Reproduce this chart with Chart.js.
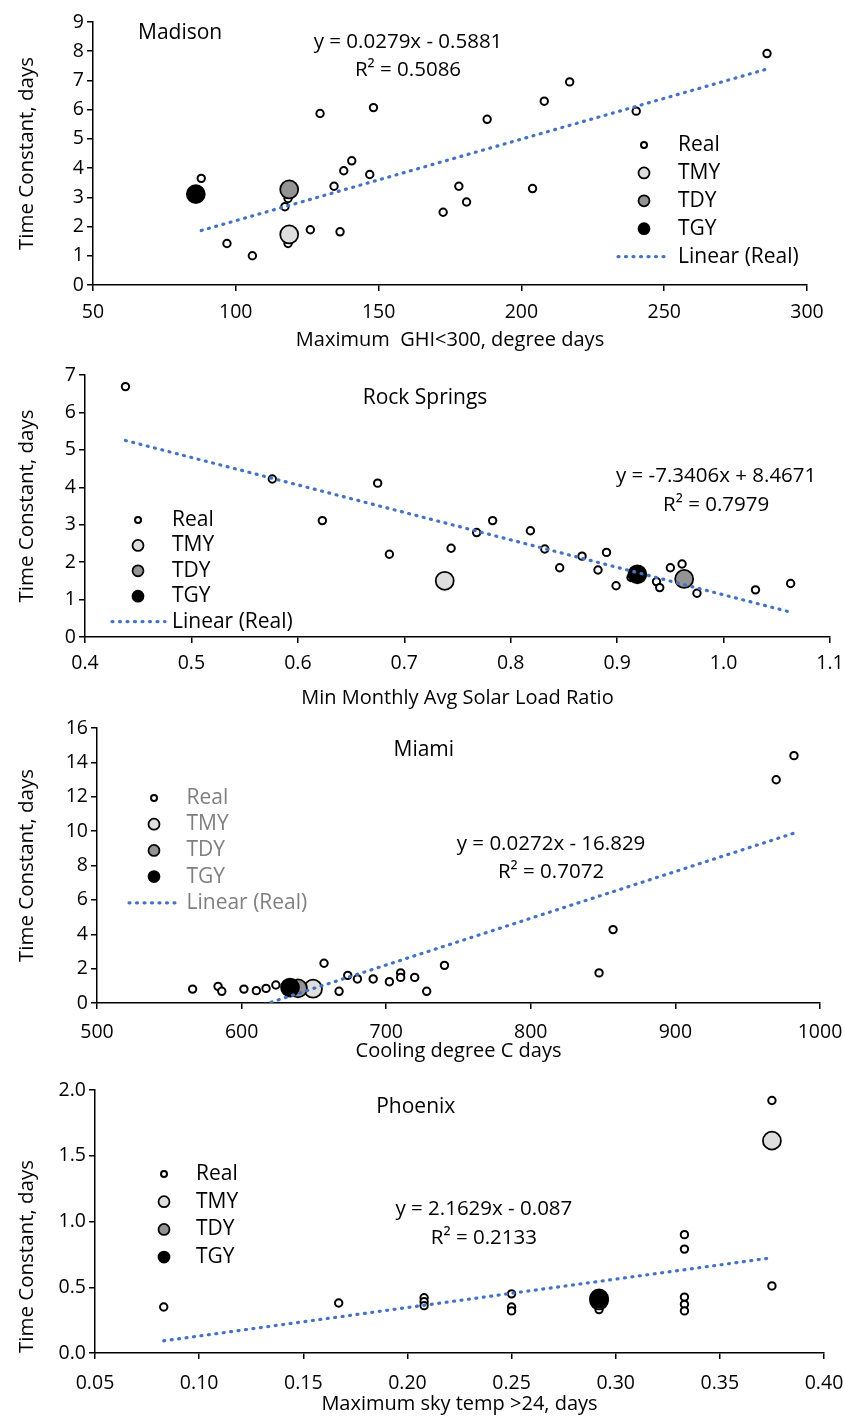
<!DOCTYPE html>
<html>
<head>
<meta charset="utf-8">
<title>Time constant vs weather metrics</title>
<script src="https://cdn.jsdelivr.net/npm/chart.js@4.4.0/dist/chart.umd.min.js"></script>
<style>
  body { margin: 0; background: #fff; }
  canvas { position: absolute; left: 0; }
</style>
</head>
<body>
<canvas id="madison" width="845" height="355" style="top:0"></canvas>
<canvas id="rock" width="845" height="355" style="top:355px"></canvas>
<canvas id="miami" width="845" height="355" style="top:710px"></canvas>
<canvas id="phoenix" width="845" height="351" style="top:1065px"></canvas>
<script>
// Madison
const madisonRealX = [87.9, 96.9, 105.8, 117.2, 118.3, 118.3, 126.1, 129.5, 134.4, 136.5, 137.8, 140.6, 146.9, 148.2, 172.6, 178.1, 180.8, 188.0, 203.9, 208.0, 216.9, 240.2, 286.0];
const madisonRealY = [3.65, 1.42, 1.00, 2.68, 2.96, 1.42, 1.89, 5.87, 3.38, 1.82, 3.91, 4.25, 3.78, 6.07, 2.49, 3.38, 2.84, 5.67, 3.30, 6.29, 6.95, 5.95, 7.92];
const madisonTmyX = [118.7], madisonTmyY = [1.73];
const madisonTdyX = [118.7], madisonTdyY = [3.27];
const madisonTgyX = [86.0], madisonTgyY = [3.11];
const madisonFit = [0.0279, -0.5881];
const madisonR2 = 0.5086;
const madisonXTicks = [50, 100, 150, 200, 250, 300];
const madisonYTicks = [0, 1, 2, 3, 4, 5, 6, 7, 8, 9];

// Rock Springs
const rockRealX = [0.438, 0.576, 0.623, 0.675, 0.686, 0.744, 0.768, 0.783, 0.8185, 0.832, 0.846, 0.867, 0.882, 0.890, 0.899, 0.913, 0.937, 0.940, 0.950, 0.961, 0.975, 1.030, 1.063];
const rockRealY = [6.69, 4.22, 3.11, 4.11, 2.21, 2.37, 2.79, 3.11, 2.84, 2.35, 1.85, 2.16, 1.79, 2.26, 1.37, 1.59, 1.48, 1.32, 1.85, 1.95, 1.17, 1.26, 1.43];
const rockTmyX = [0.738], rockTmyY = [1.50];
const rockTdyX = [0.963], rockTdyY = [1.55];
const rockTgyX = [0.919], rockTgyY = [1.675];
const rockFit = [-7.3406, 8.4671];
const rockR2 = 0.7979;
const rockXTicks = [0.4, 0.5, 0.6, 0.7, 0.8, 0.9, 1.0, 1.1];
const rockYTicks = [0, 1, 2, 3, 4, 5, 6, 7];

// Miami
const miamiRealX = [566.1, 583.7, 586.3, 601.6, 610.2, 616.9, 623.7, 657.0, 667.4, 673.4, 680.1, 691.0, 702.2, 710.0, 710.0, 719.7, 728.0, 740.3, 847.2, 856.9, 969.7, 982.0];
const miamiRealY = [0.81, 0.97, 0.68, 0.81, 0.72, 0.85, 1.05, 2.31, 0.68, 1.61, 1.40, 1.40, 1.24, 1.75, 1.49, 1.49, 0.68, 2.19, 1.75, 4.27, 12.99, 14.39];
const miamiTmyX = [649.4], miamiTmyY = [0.83];
const miamiTdyX = [639.0], miamiTdyY = [0.85];
const miamiTgyX = [633.5], miamiTgyY = [0.90];
const miamiFit = [0.0272, -16.829];
const miamiR2 = 0.7072;
const miamiXTicks = [500, 600, 700, 800, 900, 1000];
const miamiYTicks = [0, 2, 4, 6, 8, 10, 12, 14, 16];

// Phoenix
const phoenixRealX = [0.083, 0.167, 0.208, 0.208, 0.208, 0.25, 0.25, 0.25, 0.292, 0.292, 0.333, 0.333, 0.333, 0.333, 0.333, 0.375, 0.375];
const phoenixRealY = [0.35, 0.38, 0.42, 0.39, 0.36, 0.45, 0.35, 0.32, 0.36, 0.33, 0.90, 0.79, 0.425, 0.37, 0.32, 1.92, 0.51];
const phoenixTmyX = [0.375], phoenixTmyY = [1.615];
const phoenixTdyX = [0.292], phoenixTdyY = [0.40];
const phoenixTgyX = [0.292], phoenixTgyY = [0.415];
const phoenixFit = [2.1629, -0.087];
const phoenixR2 = 0.2133;
const phoenixXTicks = [0.05, 0.10, 0.15, 0.20, 0.25, 0.30, 0.35, 0.40];
const phoenixYTicks = [0, 0.5, 1.0, 1.5, 2.0];

const FONT = "'Open Sans', 'DejaVu Sans Condensed', sans-serif";
Chart.defaults.font.family = FONT;
Chart.defaults.color = '#000';

const pts = (xs, ys) => xs.map((x, i) => ({ x, y: ys[i] }));

function equation(fit) {
  const [m, b] = fit;
  return 'y = ' + m + 'x ' + (b < 0 ? '- ' : '+ ') + Math.abs(b);
}

// city name, fitted equation and a hand-drawn legend
const notesPlugin = {
  id: 'notes',
  afterDraw(chart, args, o) {
    const { ctx, scales: { x, y } } = chart;
    ctx.save();
    ctx.textBaseline = 'middle';
    ctx.textAlign = 'center';
    ctx.fillStyle = '#000';
    o.texts.forEach(t => {
      ctx.font = t.size + 'px ' + FONT;
      ctx.fillText(t.text, x.getPixelForValue(t.x), y.getPixelForValue(t.y));
    });

    const L = o.legend;
    ctx.font = '21px ' + FONT;
    chart.data.datasets.slice(0, L.rows).forEach((ds, i) => {
      const cy = L.y0 + i * L.dy;
      if (ds.showLine) {
        ctx.save();
        ctx.strokeStyle = ds.borderColor;
        ctx.lineWidth = ds.borderWidth;
        ctx.lineCap = 'round';
        ctx.setLineDash(ds.borderDash);
        ctx.beginPath();
        ctx.moveTo(L.lineX[0], cy);
        ctx.lineTo(L.lineX[1], cy);
        ctx.stroke();
        ctx.restore();
      } else {
        ctx.beginPath();
        ctx.arc(L.markerX, cy, ds.legendRadius, 0, Math.PI * 2);
        ctx.fillStyle = ds.backgroundColor;
        ctx.fill();
        ctx.lineWidth = ds.pointBorderWidth;
        ctx.strokeStyle = ds.borderColor;
        ctx.stroke();
      }
      ctx.textAlign = 'left';
      ctx.fillStyle = L.color;
      ctx.fillText(ds.label, L.textX, cy);
    });
    ctx.restore();
  }
};

function axis(ticks, min, max, decimals, size, pad, title) {
  return {
    type: 'linear',
    min, max,
    afterBuildTicks: s => { s.ticks = ticks.map(v => ({ value: v })); },
    ticks: {
      font: { size: 19.5 },
      color: '#000',
      padding: pad,
      callback: v => Number(v).toFixed(decimals)
    },
    grid: { drawOnChartArea: false, drawTicks: true, tickLength: 6, color: '#000', lineWidth: 1.5 },
    border: { display: true, color: '#000', width: 1.5 },
    // fixed box sizes so the plot area sits where the layout padding puts it
    afterFit: s => {
      if (s.isHorizontal()) s.height = size; else s.width = size;
      s.paddingLeft = s.paddingRight = s.paddingTop = s.paddingBottom = 0;
    },
    title
  };
}

function buildPanel(p) {
  const canvas = document.getElementById(p.id);
  const H = canvas.height;
  const fitX = [Math.min(...p.realX), Math.max(...p.realX)];
  const fitLine = fitX.map(x => ({ x, y: p.fit[0] * x + p.fit[1] }));
  const marker = { borderColor: '#000', pointBorderWidth: 1.75, pointRadius: 9, pointHoverRadius: 9 };

  new Chart(canvas, {
    type: 'scatter',
    data: {
      datasets: [
        { label: 'Real', data: pts(p.realX, p.realY), backgroundColor: '#fff', borderColor: '#000',
          pointRadius: 3.7, pointBorderWidth: 2, legendRadius: 3, order: 4 },
        { label: 'TMY', data: pts(p.tmyX, p.tmyY), backgroundColor: '#dedede', legendRadius: 5.5, order: 3, ...marker },
        { label: 'TDY', data: pts(p.tdyX, p.tdyY), backgroundColor: '#939393', legendRadius: 5.5, order: 2, ...marker },
        { label: 'TGY', data: pts(p.tgyX, p.tgyY), backgroundColor: '#000', legendRadius: 5.5, order: 1, ...marker },
        { label: 'Linear (Real)', data: fitLine, showLine: true, pointRadius: 0, borderColor: '#4472c4',
          borderWidth: 3.2, borderDash: [1, 6.5], borderCapStyle: 'round', order: 0 }
      ]
    },
    options: {
      responsive: false,
      animation: false,
      events: [],
      layout: { padding: { top: p.area.top, right: 845 - p.area.right, left: 0, bottom: 0 } },
      plugins: {
        legend: { display: false },
        tooltip: { enabled: false },
        notes: {
          texts: [
            { text: p.city, x: p.cityAt[0], y: p.cityAt[1], size: 21 },
            { text: equation(p.fit), x: p.eqAt[0], y: p.eqAt[1], size: 20.5 },
            { text: 'R² = ' + p.r2, x: p.eqAt[0], y: p.eqAt[2], size: 20.5 }
          ],
          legend: p.legend
        }
      },
      scales: {
        x: axis(p.xTicks, p.xTicks[0], p.xTicks[p.xTicks.length - 1], p.xDec, H - p.area.bottom, p.xTickPad,
          { display: true, text: p.xTitle, font: { size: 20 }, color: '#000', padding: { top: 0, bottom: p.xTitlePad } }),
        y: axis(p.yTicks, p.yTicks[0], p.yTicks[p.yTicks.length - 1], p.yDec, p.area.left, 3,
          { display: true, text: 'Time Constant, days', font: { size: 20.5 }, color: '#000', align: p.yTitleAlign,
            padding: { top: 15, bottom: 0 } })
      }
    },
    plugins: [notesPlugin]
  });
}

buildPanel({
  id: 'madison', city: 'Madison',
  realX: madisonRealX, realY: madisonRealY, tmyX: madisonTmyX, tmyY: madisonTmyY,
  tdyX: madisonTdyX, tdyY: madisonTdyY, tgyX: madisonTgyX, tgyY: madisonTgyY,
  fit: madisonFit, r2: madisonR2, xTicks: madisonXTicks, yTicks: madisonYTicks, xDec: 0, yDec: 0,
  xTitle: 'Maximum  GHI<300, degree days', xTitlePad: 3, xTickPad: 10, yTitleAlign: 'center',
  area: { top: 22, bottom: 285, left: 93, right: 807 },
  cityAt: [80.5, 8.62], eqAt: [160.3, 8.32, 7.36],
  legend: { rows: 5, markerX: 644, textX: 678, y0: 145, dy: 27.9, lineX: [618, 670], color: '#000' }
});

buildPanel({
  id: 'rock', city: 'Rock Springs',
  realX: rockRealX, realY: rockRealY, tmyX: rockTmyX, tmyY: rockTmyY,
  tdyX: rockTdyX, tdyY: rockTdyY, tgyX: rockTgyX, tgyY: rockTgyY,
  fit: rockFit, r2: rockR2, xTicks: rockXTicks, yTicks: rockYTicks, xDec: 1, yDec: 0,
  xTitle: 'Min Monthly Avg Solar Load Ratio', xTitlePad: 0, xTickPad: 9, yTitleAlign: 'center',
  area: { top: 20, bottom: 282, left: 85, right: 830 },
  cityAt: [0.7195, 6.39], eqAt: [0.993, 4.30, 3.51],
  legend: { rows: 5, markerX: 138, textX: 172, y0: 165, dy: 25.4, lineX: [112, 165], color: '#000' }
});

buildPanel({
  id: 'miami', city: 'Miami',
  realX: miamiRealX, realY: miamiRealY, tmyX: miamiTmyX, tmyY: miamiTmyY,
  tdyX: miamiTdyX, tdyY: miamiTdyY, tgyX: miamiTgyX, tgyY: miamiTgyY,
  fit: miamiFit, r2: miamiR2, xTicks: miamiXTicks, yTicks: miamiYTicks, xDec: 0, yDec: 0,
  xTitle: 'Cooling degree C days', xTitlePad: 2, xTickPad: 12, yTitleAlign: 'center',
  area: { top: 18, bottom: 293, left: 97, right: 820 },
  cityAt: [726, 14.72], eqAt: [814, 9.25, 7.62],
  legend: { rows: 5, markerX: 154, textX: 186.5, y0: 88, dy: 26.2, lineX: [129, 181], color: '#7f7f7f' }
});

buildPanel({
  id: 'phoenix', city: 'Phoenix',
  realX: phoenixRealX, realY: phoenixRealY, tmyX: phoenixTmyX, tmyY: phoenixTmyY,
  tdyX: phoenixTdyX, tdyY: phoenixTdyY, tgyX: phoenixTgyX, tgyY: phoenixTgyY,
  fit: phoenixFit, r2: phoenixR2, xTicks: phoenixXTicks, yTicks: phoenixYTicks, xDec: 2, yDec: 1,
  xTitle: 'Maximum sky temp >24, days', xTitlePad: 0, xTickPad: 13, yTitleAlign: 'start',
  area: { top: 25, bottom: 288, left: 95, right: 824 },
  cityAt: [0.204, 1.867], eqAt: [0.2367, 1.095, 0.875],
  legend: { rows: 4, markerX: 164, textX: 196, y0: 109, dy: 27.7, lineX: [0, 0], color: '#000' }
});
</script>
</body>
</html>
